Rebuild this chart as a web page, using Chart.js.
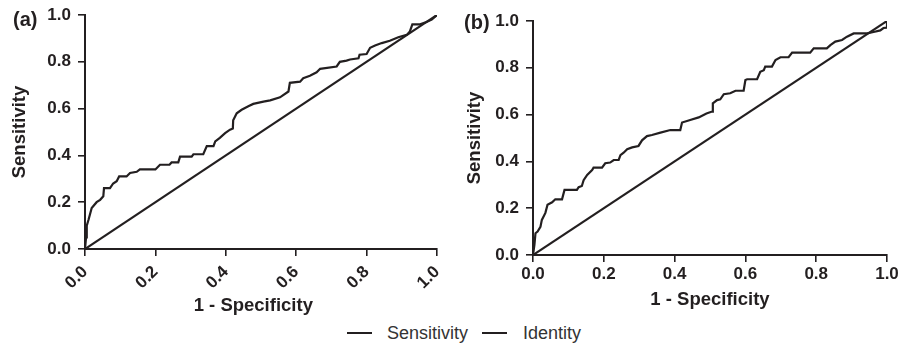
<!DOCTYPE html>
<html>
<head>
<meta charset="utf-8">
<script src="https://cdn.jsdelivr.net/npm/chart.js@4.4.1/dist/chart.umd.min.js"></script>
<style>
  body { margin: 0; background: #fff; }
  #wrap { position: relative; width: 898px; height: 346px; font-family: 'Liberation Sans', Arial, sans-serif; color: #231f20; }
  canvas { position: absolute; top: 0; }
  .panel { position: absolute; font-weight: bold; font-size: 20px; line-height: 20px; }
  .leg-line { position: absolute; height: 2px; width: 25px; background: #231f20; }
  .leg-txt { position: absolute; font-size: 18px; line-height: 18px; color: #333; }
</style>
</head>
<body>
<div id="wrap">
  <canvas id="grafA" width="450" height="320" style="left:0"></canvas>
  <canvas id="grafB" width="448" height="320" style="left:450px"></canvas>
  <div class="panel" style="left:13px; top:9px">(a)</div>
  <div class="panel" style="left:464px; top:12px">(b)</div>
  <div class="leg-line" style="left:347px; top:332px"></div>
  <div class="leg-txt" style="left:387px; top:324px">Sensitivity</div>
  <div class="leg-line" style="left:482px; top:332px"></div>
  <div class="leg-txt" style="left:523px; top:324px">Identity</div>
</div>
<script>
// dati
var tickLabels = ['0.0', '0.2', '0.4', '0.6', '0.8', '1.0'];
var identityX = [0, 1];
var identityY = [0, 1];

// pannello (a)
var fprA = [0, 0.003, 0.005, 0.01, 0.019, 0.033, 0.043, 0.052, 0.054, 0.071, 0.08, 0.09, 0.097, 0.118, 0.128, 0.147, 0.156, 0.2, 0.213, 0.24, 0.246, 0.265, 0.27, 0.303, 0.308, 0.336, 0.346, 0.365, 0.37, 0.383, 0.398, 0.412, 0.42, 0.421, 0.431, 0.445, 0.464, 0.478, 0.507, 0.526, 0.554, 0.578, 0.582, 0.611, 0.62, 0.639, 0.658, 0.668, 0.715, 0.724, 0.743, 0.753, 0.777, 0.78, 0.8, 0.81, 0.824, 0.843, 0.866, 0.89, 0.914, 0.923, 0.93, 0.952, 0.97, 0.985, 1];
var tprA = [0, 0.05, 0.1, 0.125, 0.175, 0.2, 0.21, 0.225, 0.26, 0.26, 0.28, 0.29, 0.31, 0.31, 0.325, 0.33, 0.34, 0.34, 0.36, 0.36, 0.37, 0.37, 0.395, 0.395, 0.405, 0.405, 0.44, 0.44, 0.46, 0.475, 0.495, 0.51, 0.515, 0.55, 0.58, 0.595, 0.61, 0.62, 0.63, 0.635, 0.648, 0.673, 0.71, 0.715, 0.73, 0.74, 0.755, 0.77, 0.78, 0.8, 0.805, 0.81, 0.815, 0.83, 0.833, 0.86, 0.87, 0.88, 0.89, 0.905, 0.915, 0.93, 0.96, 0.96, 0.97, 0.98, 1];

// pannello (b)
var fprB = [0, 0.004, 0.007, 0.013, 0.021, 0.025, 0.035, 0.041, 0.054, 0.063, 0.082, 0.089, 0.124, 0.129, 0.138, 0.143, 0.153, 0.167, 0.171, 0.195, 0.204, 0.218, 0.228, 0.242, 0.247, 0.256, 0.266, 0.28, 0.298, 0.308, 0.322, 0.336, 0.36, 0.388, 0.416, 0.421, 0.444, 0.468, 0.49, 0.506, 0.508, 0.52, 0.529, 0.539, 0.557, 0.572, 0.595, 0.6, 0.605, 0.633, 0.642, 0.652, 0.656, 0.675, 0.685, 0.699, 0.722, 0.732, 0.783, 0.793, 0.83, 0.84, 0.854, 0.873, 0.887, 0.906, 0.944, 0.962, 0.981, 0.99, 1, 1];
var tprB = [0, 0.043, 0.093, 0.1, 0.12, 0.15, 0.18, 0.215, 0.225, 0.238, 0.238, 0.278, 0.278, 0.29, 0.295, 0.32, 0.342, 0.363, 0.373, 0.373, 0.392, 0.395, 0.406, 0.406, 0.427, 0.437, 0.452, 0.46, 0.466, 0.49, 0.508, 0.513, 0.523, 0.534, 0.534, 0.566, 0.577, 0.588, 0.605, 0.613, 0.648, 0.662, 0.665, 0.687, 0.691, 0.702, 0.702, 0.748, 0.751, 0.751, 0.783, 0.79, 0.805, 0.805, 0.833, 0.845, 0.845, 0.865, 0.865, 0.883, 0.883, 0.897, 0.912, 0.919, 0.933, 0.947, 0.947, 0.953, 0.96, 0.97, 0.972, 1];

function punti(xs, ys) {
  return xs.map(function(x, i){ return {x: x, y: ys[i]}; });
}

var scuro = '#231f20';
var fontTick = {family: "'Liberation Sans', Arial, sans-serif", size: 17, weight: 'bold'};
var fontTitolo = {family: "'Liberation Sans', Arial, sans-serif", size: 18.5, weight: 'bold'};

function creaGrafico(id, fpr, tpr, opt) {
  var ctx = document.getElementById(id);
  return new Chart(ctx, {
    type: 'scatter',
    data: {
      datasets: [{
        label: 'Sensitivity',
        data: punti(fpr, tpr),
        showLine: true,
        borderColor: scuro,
        borderWidth: 2.2,
        pointRadius: 0,
        tension: 0
      }, {
        label: 'Identity',
        data: punti(identityX, identityY),
        showLine: true,
        borderColor: scuro,
        borderWidth: 2.2,
        pointRadius: 0
      }]
    },
    options: {
      responsive: false,
      animation: false,
      layout: { padding: opt.padding },
      plugins: { legend: { display: false }, tooltip: { enabled: false } },
      scales: {
        x: {
          type: 'linear', min: 0, max: 1,
          border: { color: scuro, width: 2 },
          grid: { drawOnChartArea: false, drawTicks: true, tickLength: 7, color: scuro, lineWidth: 1.6 },
          ticks: {
            stepSize: 0.2, color: scuro, font: fontTick, padding: opt.xTickPad,
            minRotation: opt.rot, maxRotation: opt.rot,
            callback: function(v, i){ return tickLabels[i]; }
          },
          title: { display: true, text: opt.xTitle, color: scuro, font: fontTitolo, padding: opt.xTitlePad },
          afterFit: function(s){ s.height = opt.xH; s.paddingLeft = 0; s.paddingRight = 0; }
        },
        y: {
          type: 'linear', min: 0, max: 1,
          border: { color: scuro, width: 2 },
          grid: { drawOnChartArea: false, drawTicks: true, tickLength: 7, color: scuro, lineWidth: 1.6 },
          ticks: {
            stepSize: 0.2, color: scuro, font: fontTick, padding: opt.yTickPad,
            callback: function(v, i){ return tickLabels[i]; }
          },
          title: { display: true, text: 'Sensitivity', color: scuro, font: fontTitolo, padding: opt.yTitlePad },
          afterFit: function(s){ s.width = opt.yW; s.paddingTop = 0; s.paddingBottom = 0; }
        }
      }
    }
  });
}

// nel pannello (a) il titolo x e' un po' spostato a sinistra
creaGrafico('grafA', fprA, tprA, {
  padding: { left: 0, right: 13, top: 15, bottom: 0 },
  rot: 45, xTickPad: 6, xH: 71, yW: 85, yTickPad: 7,
  xTitle: '1 - Specificity   ',
  xTitlePad: { top: 0, bottom: 3 }, yTitlePad: { top: 9, bottom: 0 }
});

creaGrafico('grafB', fprB, tprB, {
  padding: { left: 0, right: 11, top: 21, bottom: 0 },
  rot: 0, xTickPad: 2, xH: 65, yW: 83, yTickPad: 7,
  xTitle: '1 - Specificity',
  xTitlePad: { top: 0, bottom: 9 }, yTitlePad: { top: 14, bottom: 0 }
});
</script>
</body>
</html>
